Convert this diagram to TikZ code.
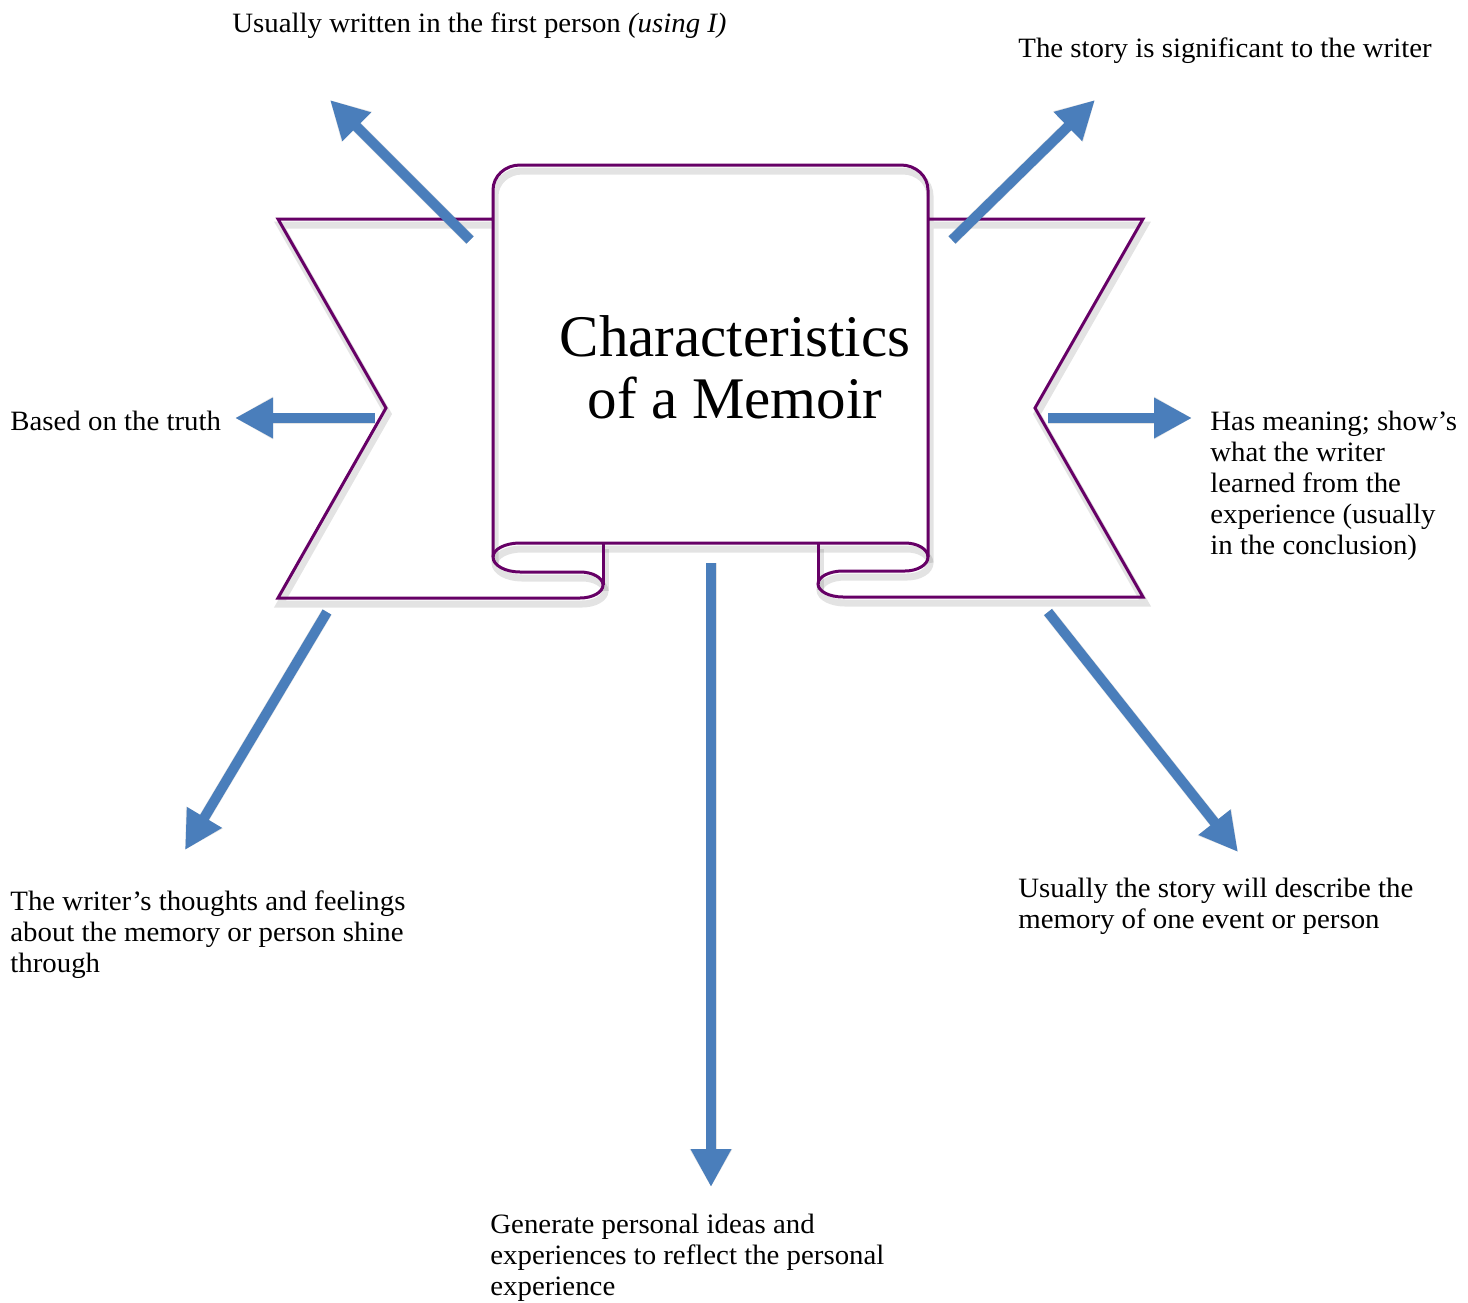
\documentclass[tikz,border=0pt]{standalone}
\usepackage{fontspec}
\setmainfont{Liberation Serif}
\newfontfamily\lblfont[FakeStretch=1.03]{Liberation Serif}
\usetikzlibrary{arrows.meta}
\definecolor{scrollpurple}{RGB}{102,0,102}
\definecolor{arrowblue}{RGB}{74,126,187}
\newcommand{\memoirscroll}[1]{%
  \draw[#1] (493,219) -- (278,219) -- (386,408) -- (278,598) -- (580,598)
    arc[start angle=90, end angle=-90, x radius=23, y radius=13]
    -- (520,572)
    arc[start angle=90, end angle=180, x radius=27, y radius=15]
    -- (493,190)
    arc[start angle=180, end angle=270, x radius=27, y radius=25]
    -- (901,165)
    arc[start angle=270, end angle=360, x radius=27, y radius=25]
    -- (928,557)
    arc[start angle=0, end angle=90, x radius=23, y radius=14]
    -- (843,571)
    arc[start angle=-90, end angle=-270, x radius=25, y radius=13]
    -- (1143,597) -- (1035,408) -- (1143,219) -- (928,219);
  \draw[#1] (493,557) arc[start angle=180, end angle=270, x radius=27, y radius=14]
    -- (905,543) arc[start angle=-90, end angle=0, x radius=23, y radius=14];
  \draw[#1] (603,543) -- (603,585);
  \draw[#1] (818,543) -- (818,584);
}
\begin{document}
\begin{tikzpicture}[x=0.5pt,y=-0.5pt,
  outline/.style={draw=scrollpurple, line width=1.5pt, line join=miter},
  shadowline/.style={draw=black, opacity=0.11, line width=3.5pt, shift={(2,6)}},
  bigarrow/.style={draw=arrowblue, line width=5pt, -{Triangle[width=19pt,length=19pt]}},
  arrowshadow/.style={draw=black, opacity=0.11, line width=5.5pt, -{Triangle[width=20pt,length=19pt]}, shift={(3,6)}},
  lbl/.style={anchor=north west, inner sep=0pt, align=left, font=\lblfont\fontsize{14}{15.5}\selectfont},
  titletext/.style={anchor=north, inner sep=0pt, align=center, font=\fontsize{29.5}{31}\selectfont},
]
\useasboundingbox (0,0) rectangle (1468,1302);

% scroll and banner
\memoirscroll{shadowline}
\memoirscroll{outline}

\node[titletext] (title) at (735,315) {Characteristics\\of a Memoir};

% arrow end points
\coordinate (a1s) at (470,240);  \coordinate (a1e) at (330,100);
\coordinate (a2s) at (952,240);  \coordinate (a2e) at (1095,100);
\coordinate (a3s) at (375,418);  \coordinate (a3e) at (235,418);
\coordinate (a4s) at (1048,418); \coordinate (a4e) at (1192,418);
\coordinate (a5s) at (327,612);  \coordinate (a5e) at (185,850);
\coordinate (a6s) at (1048,612); \coordinate (a6e) at (1238,852);
\coordinate (a7s) at (711,563);  \coordinate (a7e) at (711,1187);

\foreach \i in {1,...,7} {\draw[arrowshadow] (a\i s) -- (a\i e);}
\foreach \i in {1,...,7} {\draw[bigarrow] (a\i s) -- (a\i e);}

% labels
\node[lbl] (l1) at (232,12) {Usually written in the first person \textit{(using I)}};
\node[lbl] (l2) at (1018,37) {The story is significant to the writer};
\node[lbl] (l3) at (10,411) {Based on the truth};
\node[lbl] (l4) at (1210,411) {Has meaning; show’s\\what the writer\\learned from the\\experience (usually\\in the conclusion)};
\node[lbl] (l5) at (10,890) {The writer’s thoughts and feelings\\about the memory or person shine\\through};
\node[lbl] (l6) at (1018,878) {Usually the story will describe the\\memory of one event or person};
\node[lbl] (l7) at (490,1214) {Generate personal ideas and\\experiences to reflect the personal\\experience};
\end{tikzpicture}
\end{document}
